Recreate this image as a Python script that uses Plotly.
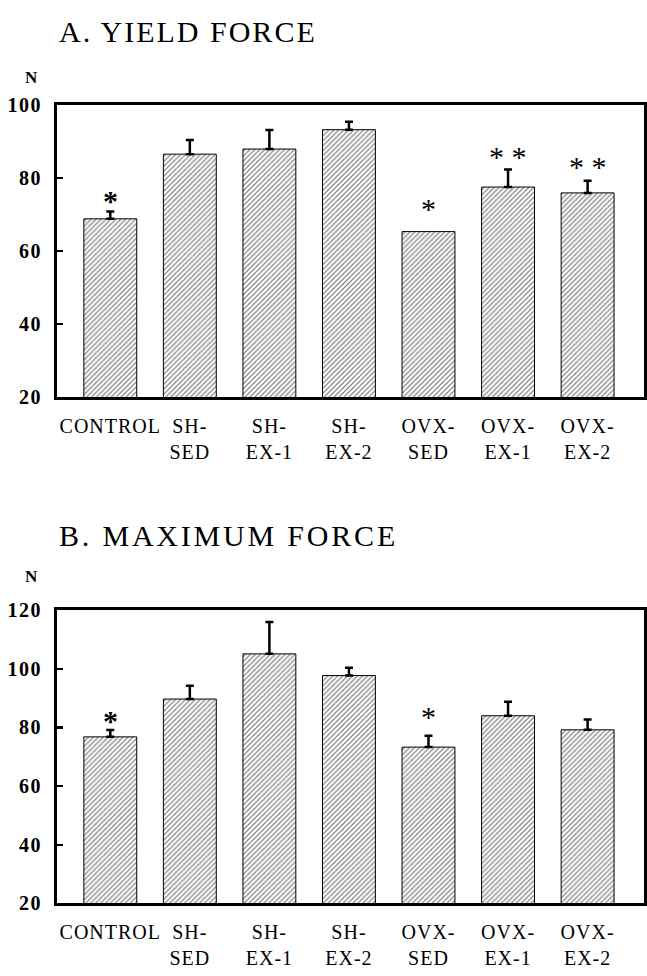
import plotly.graph_objects as go

# ---------------- data ----------------
categories = ["CONTROL", "SH-SED", "SH-EX-1", "SH-EX-2", "OVX-SED", "OVX-EX-1", "OVX-EX-2"]
tick_labels = ["CONTROL", "SH-<br>SED", "SH-<br>EX-1", "SH-<br>EX-2",
               "OVX-<br>SED", "OVX-<br>EX-1", "OVX-<br>EX-2"]

yield_mean = [68.8, 86.5, 87.9, 93.2, 65.3, 77.5, 75.9]
yield_err = [2.0, 3.9, 5.2, 2.2, None, 4.8, 3.3]   # no error bar drawn for OVX-SED
yield_sig = ["*", "", "", "", "*", "* *", "* *"]

max_mean = [76.8, 89.7, 105.1, 97.7, 73.3, 84.0, 79.2]
max_err = [2.3, 4.5, 10.9, 2.7, 3.9, 4.8, 3.5]
max_sig = ["*", "", "", "", "*", "", ""]

yield_ticks = [20, 40, 60, 80, 100]
max_ticks = [20, 40, 60, 80, 100, 120]

# ---------------- styling ----------------
W, H = 647, 976
SERIF = "Liberation Serif, Times New Roman, serif"
x_pos = list(range(len(categories)))

# pixel gaps between top of bar/error bar and star centre
yield_star_gap = [11, 0, 0, 0, 23, 13, 14]
max_star_gap = [10, 0, 0, 0, 19, 0, 0]
star_bold = [True, False, False, False, False, False, False]


def py(p):
    return 1 - p / H


def spaced(txt, ls):
    return "<br>".join(
        f'<span style="letter-spacing:{ls}px">{part}</span>' for part in txt.split("<br>")
    )


fig = go.Figure()


def add_panel(mean, err, xa, ya):
    fig.add_trace(go.Bar(
        x=x_pos, y=mean, base=0, width=0.665,
        xaxis=xa, yaxis=ya,
        marker=dict(color="white",
                    line=dict(color="black", width=1),
                    pattern=dict(shape="/", size=3.5, solidity=0.35,
                                 fgcolor="black", bgcolor="white")),
        showlegend=False, hoverinfo="skip",
    ))
    # upper error bars only where an error value exists
    idx = [i for i, e in enumerate(err) if e is not None]
    fig.add_trace(go.Scatter(
        x=[x_pos[i] for i in idx], y=[mean[i] for i in idx],
        mode="markers", marker=dict(size=1, opacity=0),
        xaxis=xa, yaxis=ya,
        error_y=dict(type="data", symmetric=False,
                     array=[err[i] for i in idx],
                     arrayminus=[0] * len(idx),
                     color="black", thickness=2.5, width=4),
        showlegend=False, hoverinfo="skip",
    ))


add_panel(yield_mean, yield_err, "x", "y")
add_panel(max_mean, max_err, "x2", "y2")

xaxis_common = dict(
    range=[-0.671, 6.709], tickvals=x_pos,
    ticktext=[spaced(t, 1) for t in tick_labels],
    showline=True, linecolor="black", linewidth=3, mirror=True,
    ticks="", showgrid=False, zeroline=False,
    tickfont=dict(family=SERIF, size=20, color="black"),
    ticklabelstandoff=9, fixedrange=True,
)
yaxis_common = dict(
    showline=True, linecolor="black", linewidth=3, mirror=True,
    ticks="inside", ticklen=6, tickwidth=2.5, tickcolor="black",
    showgrid=False, zeroline=False,
    tickfont=dict(family=SERIF, size=20, color="black", weight="bold"),
    ticklabelstandoff=8, fixedrange=True,
)

dom_x = [57 / W, 645 / W]
fig.update_layout(
    width=W, height=H,
    margin=dict(l=0, r=0, t=0, b=0),
    paper_bgcolor="white", plot_bgcolor="white",
    xaxis=dict(domain=dom_x, anchor="y", **xaxis_common),
    yaxis=dict(domain=[py(395), py(96)], anchor="x", range=[20, 100],
               tickvals=yield_ticks, ticktext=[spaced(str(v), 1.5) for v in yield_ticks],
               **yaxis_common),
    xaxis2=dict(domain=dom_x, anchor="y2", **xaxis_common),
    yaxis2=dict(domain=[py(913), py(613)], anchor="x2", range=[20, 120],
                tickvals=max_ticks, ticktext=[spaced(str(v), 1.5) for v in max_ticks],
                **yaxis_common),
    bargap=0.3,
)

annotations = []
# titles
annotations.append(dict(text=spaced("A. YIELD FORCE", 2.0), xref="paper", yref="paper",
                        x=57 / W, y=py(21), xanchor="left", yanchor="middle",
                        showarrow=False,
                        font=dict(family=SERIF, size=30, color="black")))
annotations.append(dict(text=spaced("B. MAXIMUM FORCE", 2.8), xref="paper", yref="paper",
                        x=57 / W, y=py(537), xanchor="left", yanchor="middle",
                        showarrow=False,
                        font=dict(family=SERIF, size=30, color="black")))
# unit labels
for yy in (68, 579):
    annotations.append(dict(text="N", xref="paper", yref="paper",
                            x=32 / W, y=py(yy), xanchor="center", yanchor="middle",
                            showarrow=False,
                            font=dict(family=SERIF, size=17, color="black",
                                      weight="bold")))


def add_stars(mean, err, sig, gaps, xr, yr):
    for i, s in enumerate(sig):
        if not s:
            continue
        top = mean[i] + (err[i] or 0)
        annotations.append(dict(
            text=s, x=x_pos[i], y=top, xref=xr, yref=yr,
            xanchor="center", yanchor="middle", yshift=gaps[i],
            showarrow=False,
            font=dict(family=SERIF, size=30, color="black",
                      weight="bold" if star_bold[i] else "normal")))


add_stars(yield_mean, yield_err, yield_sig, yield_star_gap, "x", "y")
add_stars(max_mean, max_err, max_sig, max_star_gap, "x2", "y2")

fig.update_layout(annotations=annotations)
fig.write_html(
    "out.html",
    config={"displayModeBar": False, "staticPlot": True},
    post_script="document.body.style.margin='0px';"
                "document.body.style.overflow='hidden';",
)
